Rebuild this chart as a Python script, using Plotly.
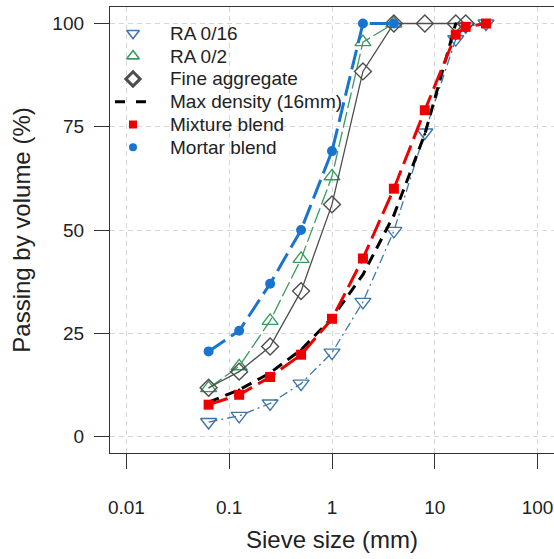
import plotly.graph_objects as go

sizes = [0.063, 0.125, 0.25, 0.5, 1, 2, 4, 8, 16, 20, 31.5]
ra016 = [3.5, 5.0, 8.0, 12.8, 20.3, 32.6, 49.8, 73.6, 96.2, 99.3, 100]
ra02 = [11.7, 17.0, 28.0, 43.0, 63.0, 95.5, 100]
fine = [11.8, 15.7, 21.8, 35.2, 56.2, 88.4, 100, 100, 100, 100]
maxd = [8.3, 11.3, 15.4, 21.0, 28.7, 39.2, 53.6, 73.2, 100]
mix = [7.7, 10.1, 14.4, 19.8, 28.5, 43.1, 60.0, 79.0, 97.3, 99.2, 100]
mortar = [20.6, 25.6, 37.0, 50.0, 69.1, 100, 100]

names = ["RA 0/16", "RA 0/2", "Fine aggregate", "Max density (16mm)", "Mixture blend", "Mortar blend"]
xticks = [0.01, 0.1, 1, 10, 100]
xticklabels = ["0.01", "0.1", "1", "10", "100"]
yticks = [0, 25, 50, 75, 100]

C_STEEL = "#3F76A8"
C_GREEN = "#3C9A5F"
C_GRAY = "#4D4D4D"
C_RED = "#EE0000"
C_BLUE = "#1874CD"
FONT = "Liberation Sans, Arial"

fig = go.Figure()

def add(x, y, color, width, dash, symbol, msize, mlw, name):
    fig.add_trace(go.Scatter(
        x=x, y=y, mode="lines+markers", showlegend=False, name=name,
        line=dict(color=color, width=width, dash=dash),
        marker=dict(symbol=symbol, size=msize, color=color,
                    line=dict(color=color, width=mlw)),
    ))

add(sizes, ra016, C_STEEL, 1.3, "9px,4px,2px,4px", "triangle-down-open", 14, 1.4, names[0])
add(sizes[:7], ra02, C_GREEN, 1.3, "16px,4px", "triangle-up-open", 14, 1.4, names[1])
add(sizes[:10], fine, C_GRAY, 1.3, "solid", "diamond-open", 13, 1.4, names[2])
add(sizes[:9], maxd, "black", 3, "11px,7px", "circle", 2.5, 0, names[3])
add(sizes, mix, C_RED, 3, "20px,7px", "square", 10, 0, names[4])
add(sizes[:7], mortar, C_BLUE, 3, "20px,7px", "circle", 10, 0, names[5])

# ---- hand-built legend on an overlay axis measured in pixels of the plot area ----
PLOT_W, PLOT_H = 444, 446
key_x = 23
text_x = 58
row_y0, row_gap = 26.3, 22.8
rows = [row_y0 + i * row_gap for i in range(len(names))]

key_markers = [
    dict(symbol="triangle-down-open", size=11, color=C_STEEL, line=dict(color=C_STEEL, width=1.6)),
    dict(symbol="triangle-up-open", size=11, color=C_GREEN, line=dict(color=C_GREEN, width=1.6)),
    dict(symbol="diamond-open", size=11, color=C_GRAY, line=dict(color=C_GRAY, width=3)),
    None,
    dict(symbol="square", size=8, color=C_RED),
    dict(symbol="circle", size=8, color=C_BLUE),
]
for i, mk in enumerate(key_markers):
    if mk is None:
        fig.add_trace(go.Scatter(x=[5, 40], y=[rows[i], rows[i]], xaxis="x2", yaxis="y2",
                                 mode="lines", showlegend=False, hoverinfo="skip",
                                 line=dict(color="black", width=3, dash="10px,11px")))
    else:
        fig.add_trace(go.Scatter(x=[key_x], y=[rows[i]], xaxis="x2", yaxis="y2",
                                 mode="markers", showlegend=False, hoverinfo="skip",
                                 marker=mk))
    fig.add_annotation(x=text_x, y=rows[i], xref="x2", yref="y2", text=names[i],
                       showarrow=False, xanchor="left", yanchor="middle",
                       font=dict(family=FONT, size=19, color="#222222"))

axis_common = dict(
    showline=True, linecolor="#333333", linewidth=1.3, mirror=True,
    ticks="outside", ticklen=15, tickwidth=1.3, tickcolor="#333333",
    showgrid=True, gridcolor="#D6D6D6", gridwidth=1, griddash="5px,4px",
    zeroline=False,
    tickfont=dict(family=FONT, size=19, color="#222222"),
)

fig.update_layout(
    width=554, height=559,
    margin=dict(l=110, r=0, t=7, b=106),
    plot_bgcolor="white", paper_bgcolor="white",
    font=dict(family=FONT, color="#222222"),
    showlegend=False,
    xaxis=dict(type="log", range=[-2.16, 2.16], tickvals=xticks, ticktext=xticklabels,
               ticklabelstandoff=22,
               title=dict(text="Sieve size (mm)", font=dict(size=24), standoff=14),
               **axis_common),
    yaxis=dict(range=[-4, 104], tickvals=yticks, ticklabelstandoff=6,
               title=dict(text="Passing by volume (%)", font=dict(size=24), standoff=14),
               **axis_common),
    xaxis2=dict(overlaying="x", range=[0, PLOT_W], visible=False, anchor="y2"),
    yaxis2=dict(overlaying="y", range=[PLOT_H, 0], visible=False, anchor="x2"),
)

fig.write_html("out.html")
